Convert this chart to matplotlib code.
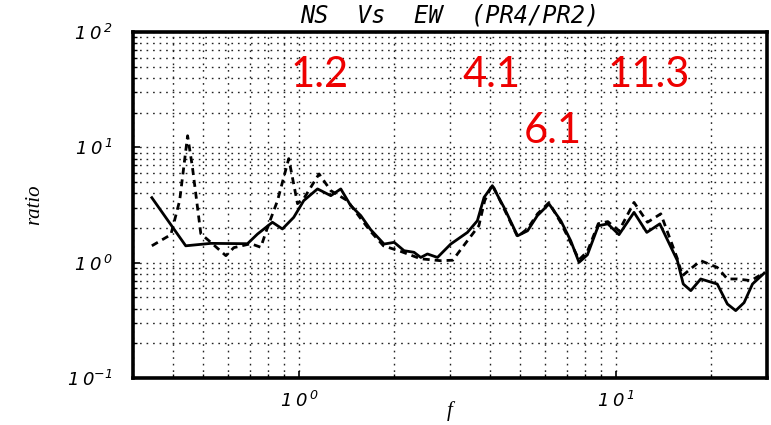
import matplotlib
matplotlib.use("Agg")
import matplotlib.pyplot as plt
from matplotlib.ticker import LogLocator, FixedLocator, FixedFormatter, NullFormatter

plt.rcParams["mathtext.fontset"] = "custom"
plt.rcParams["mathtext.rm"] = "DejaVu Sans:italic"
plt.rcParams["mathtext.it"] = "DejaVu Sans:italic"

# Spectral ratio NS / EW, station PR4 over PR2
ns_f = [0.344, 0.440, 0.528, 0.689, 0.741, 0.826, 0.888, 0.964, 1.037, 1.146,
        1.262, 1.357, 1.459, 1.569, 1.687, 1.858, 2.00, 2.149, 2.31, 2.426,
        2.547, 2.739, 3.016, 3.405, 3.66, 3.842, 4.08, 4.44, 4.90, 5.27,
        5.66, 6.16, 6.71, 7.21, 7.66, 8.14, 8.81, 9.44, 10.24, 11.42,
        12.53, 13.77, 15.65, 16.33, 17.25, 18.54, 20.9, 22.5, 23.9, 25.4,
        27.0, 29.4]
ns_r = [3.66, 1.40, 1.47, 1.46, 1.77, 2.24, 1.96, 2.47, 3.45, 4.36,
        3.81, 4.36, 3.12, 2.56, 1.93, 1.45, 1.50, 1.27, 1.23, 1.11,
        1.19, 1.11, 1.45, 1.83, 2.31, 3.68, 4.65, 3.02, 1.71, 1.89,
        2.56, 3.23, 2.31, 1.55, 1.006, 1.17, 2.09, 2.17, 1.75, 2.73,
        1.83, 2.17, 1.04, 0.653, 0.572, 0.722, 0.653, 0.438, 0.384, 0.45,
        0.653, 0.811]

ew_f = [0.344, 0.395, 0.421, 0.446, 0.462, 0.491, 0.528, 0.589, 0.624, 0.706,
        0.759, 0.797, 0.857, 0.930, 0.991, 1.037, 1.159, 1.262, 1.424, 1.569,
        1.687, 1.85, 2.10, 2.426, 2.805, 3.06, 3.405, 3.70, 3.86, 4.08,
        4.44, 4.90, 5.27, 5.67, 6.16, 6.71, 7.21, 7.66, 8.14, 8.81,
        9.44, 10.24, 11.42, 12.59, 13.87, 15.65, 16.23, 17.25, 18.54, 20.9,
        22.5, 24.2, 26.7, 29.4]
ew_r = [1.40, 1.75, 3.45, 12.6, 6.71, 1.78, 1.50, 1.15, 1.35, 1.46,
        1.36, 2.02, 3.45, 7.98, 3.25, 3.59, 5.88, 4.21, 3.45, 2.41,
        1.86, 1.40, 1.25, 1.08, 1.04, 1.05, 1.55, 2.09, 3.45, 4.75,
        2.94, 1.68, 1.97, 2.66, 3.32, 2.22, 1.49, 1.06, 1.25, 2.18,
        2.27, 1.89, 3.33, 2.24, 2.65, 1.08, 0.77, 0.887, 1.04, 0.91,
        0.722, 0.722, 0.698, 0.819]

x_ticks = [1, 10]
x_tick_labels = [r"$1\:0^{\,0}$", r"$1\:0^{\,1}$"]
y_ticks = [0.1, 1, 10, 100]
y_tick_labels = [r"$1\:0^{-1}$", r"$1\:0^{\,0}$", r"$1\:0^{\,1}$", r"$1\:0^{\,2}$"]

peak_labels = ["1.2", "4.1", "11.3", "6.1"]
peak_label_pos = [(0.295, 0.841), (0.565, 0.841), (0.814, 0.841), (0.6625, 0.679)]

fig = plt.figure(figsize=(7.71, 4.25), dpi=100)
ax = fig.add_axes([0.1725, 0.1106, 0.8223, 0.8141])
ax.set_xscale("log")
ax.set_yscale("log")
ax.set_xlim(0.3, 30)
ax.set_ylim(0.1, 100)

ax.plot(ns_f, ns_r, color="black", lw=2.0, solid_joinstyle="round")
ax.plot(ew_f, ew_r, color="black", lw=2.0, linestyle=(0, (2.5, 1.8)))

grid_kw = dict(color="#222222", linestyle=(0, (1.2, 3.5)), linewidth=1.0)
ax.grid(True, which="major", **grid_kw)
ax.grid(True, which="minor", **grid_kw)

ax.xaxis.set_major_locator(FixedLocator(x_ticks))
ax.xaxis.set_major_formatter(FixedFormatter(x_tick_labels))
ax.xaxis.set_minor_locator(LogLocator(base=10, subs=range(2, 10)))
ax.xaxis.set_minor_formatter(NullFormatter())
ax.yaxis.set_major_locator(FixedLocator(y_ticks))
ax.yaxis.set_major_formatter(FixedFormatter(y_tick_labels))
ax.yaxis.set_minor_locator(LogLocator(base=10, subs=range(2, 10)))
ax.yaxis.set_minor_formatter(NullFormatter())

ax.tick_params(which="both", direction="in", color="black")
ax.tick_params(which="major", length=5, width=1.2, labelsize=13)
ax.tick_params(which="minor", length=3, width=1.0)
ax.tick_params(axis="y", which="major", pad=15)
ax.tick_params(axis="x", which="major", pad=9)

for sp in ax.spines.values():
    sp.set_linewidth(2.6)
    sp.set_color("black")

ax.set_title("NS  Vs  EW  (PR4/PR2)", fontsize=17, style="italic",
             family="DejaVu Sans Mono", pad=7)
ax.set_xlabel("f", fontsize=15, style="italic", family="Liberation Serif", labelpad=-7)
ax.set_ylabel("ratio", fontsize=15, style="italic", family="Liberation Serif", labelpad=16)

for txt, (px, py) in zip(peak_labels, peak_label_pos):
    ax.text(px, py, txt, transform=ax.transAxes, color="#ee0000", fontsize=30,
            family="Lato", ha="center", va="baseline")

fig.savefig("out.png", dpi=100)
